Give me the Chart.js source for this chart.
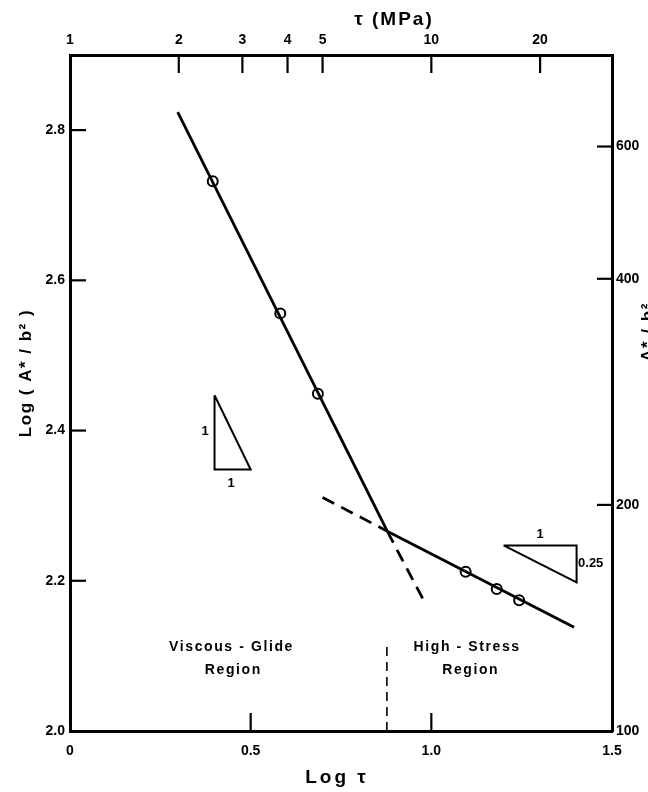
<!DOCTYPE html>
<html>
<head>
<meta charset="utf-8">
<script src="https://cdn.jsdelivr.net/npm/chart.js@4/dist/chart.umd.min.js"></script>
<style>
  html, body { margin: 0; padding: 0; background: #fff; }
  canvas { display: block; }
</style>
</head>
<body>
<canvas id="chart" width="648" height="792"></canvas>
<script>
// measured points (log tau, log A*/b^2)
const pointLogTau = [0.395, 0.582, 0.686, 1.095, 1.181, 1.243];
const pointLogA = [2.732, 2.556, 2.449, 2.212, 2.189, 2.174];

// fitted lines
const viscousLineX = [0.298, 0.878];
const viscousLineY = [2.824, 2.266];
const stressLineX = [0.878, 1.395];
const stressLineY = [2.266, 2.138];
const viscousDashX = [0.878, 0.983];
const viscousDashY = [2.266, 2.170];
const stressDashX = [0.699, 0.878];
const stressDashY = [2.311, 2.266];
const boundaryX = [0.877, 0.877];
const boundaryY = [2.0, 2.112];

// slope triangles
const slope1X = [0.4, 0.4, 0.5, 0.4];
const slope1Y = [2.447, 2.348, 2.348, 2.447];
const slope2X = [1.2, 1.402, 1.402, 1.2];
const slope2Y = [2.247, 2.247, 2.198, 2.247];

// tick labels
const logTauTicks = [0, 0.5, 1.0, 1.5];
const logATicks = [2.0, 2.2, 2.4, 2.6, 2.8];
const tauTicks = [1, 2, 3, 4, 5, 10, 20];
const aTicks = [100, 200, 400, 600];

const FONT = '"Liberation Sans", Arial, sans-serif';

function xy(xs, ys) {
  return xs.map((x, i) => ({ x: x, y: ys[i] }));
}

function lineSet(xs, ys, dash, width) {
  return {
    data: xy(xs, ys),
    showLine: true,
    borderColor: '#000',
    borderWidth: width || 2.8,
    borderDash: dash || [],
    pointRadius: 0,
    fill: false,
    tension: 0
  };
}

const tickFont = { family: FONT, size: 14, weight: 'bold' };

// inward tick marks, titles and notes
const decorations = {
  id: 'decorations',
  afterDraw(chart) {
    const ctx = chart.ctx;
    const s = chart.scales;
    const a = chart.chartArea;
    ctx.save();
    ctx.strokeStyle = '#000';
    ctx.fillStyle = '#000';
    ctx.lineWidth = 2.2;

    [2.2, 2.4, 2.6, 2.8].forEach(v => {
      const y = s.y.getPixelForValue(v);
      ctx.beginPath(); ctx.moveTo(a.left, y); ctx.lineTo(a.left + 16, y); ctx.stroke();
    });
    [0.5, 1.0].forEach(v => {
      const x = s.x.getPixelForValue(v);
      ctx.beginPath(); ctx.moveTo(x, a.bottom); ctx.lineTo(x, a.bottom - 18); ctx.stroke();
    });
    tauTicks.slice(1).forEach(v => {
      const x = s.xTop.getPixelForValue(Math.log10(v));
      ctx.beginPath(); ctx.moveTo(x, a.top); ctx.lineTo(x, a.top + 18); ctx.stroke();
    });
    aTicks.slice(1).forEach(v => {
      const y = s.yRight.getPixelForValue(v);
      ctx.beginPath(); ctx.moveTo(a.right, y); ctx.lineTo(a.right - 15, y); ctx.stroke();
    });

    const text = (str, x, y, size, spacing, align, style) => {
      ctx.font = (style || '') + ' bold ' + size + 'px ' + FONT;
      ctx.letterSpacing = (spacing || 0) + 'px';
      ctx.textAlign = align || 'center';
      ctx.textBaseline = 'middle';
      ctx.fillText(str, x, y);
    };
    const at = (lx, ly) => [s.x.getPixelForValue(lx), s.y.getPixelForValue(ly)];

    // slope labels
    let p = at(0.374, 2.399); text('1', p[0], p[1], 13);
    p = at(0.446, 2.33); text('1', p[0], p[1], 13);
    p = at(1.301, 2.262); text('1', p[0], p[1], 13);
    p = at(1.406, 2.223); text('0.25', p[0], p[1], 13, 0, 'left');

    // region labels
    p = at(0.447, 2.112); text('Viscous - Glide', p[0], p[1], 14, 1.6);
    p = at(0.452, 2.081); text('Region', p[0], p[1], 14, 1.6);
    p = at(1.099, 2.112); text('High - Stress', p[0], p[1], 14, 1.6);
    p = at(1.109, 2.081); text('Region', p[0], p[1], 14, 1.6);

    // axis titles
    text('τ (MPa)', 394, 20, 19, 2);
    text('Log τ', 337, 778, 19, 3);

    ctx.save();
    ctx.translate(26, 373);
    ctx.rotate(-Math.PI / 2);
    text('Log ( A* / b² )', 0, 0, 17, 1.5);
    ctx.restore();

    ctx.save();
    ctx.translate(648, 332);
    ctx.rotate(-Math.PI / 2);
    text('A* / b²', 0, 0, 17, 1.5);
    ctx.restore();

    ctx.restore();
  }
};

new Chart(document.getElementById('chart'), {
  type: 'scatter',
  data: {
    datasets: [
      lineSet(viscousLineX, viscousLineY),
      lineSet(stressLineX, stressLineY),
      lineSet(viscousDashX, viscousDashY, [13, 8]),
      lineSet(stressDashX, stressDashY, [13, 8]),
      lineSet(boundaryX, boundaryY, [9, 6], 1.6),
      lineSet(slope1X, slope1Y, [], 2),
      lineSet(slope2X, slope2Y, [], 2),
      {
        data: xy(pointLogTau, pointLogA),
        pointRadius: 5,
        pointBackgroundColor: '#fff',
        pointBorderColor: '#000',
        pointBorderWidth: 2,
        showLine: false
      }
    ]
  },
  options: {
    responsive: false,
    animation: false,
    layout: { padding: 0 },
    plugins: { legend: { display: false }, tooltip: { enabled: false } },
    scales: {
      x: {
        type: 'linear', position: 'bottom', min: 0, max: 1.5,
        afterBuildTicks: sc => { sc.ticks = logTauTicks.map(v => ({ value: v })); },
        afterFit: sc => { sc.height = 61; },
        grid: { display: false, drawTicks: false },
        border: { display: true, color: '#000', width: 3 },
        ticks: {
          font: tickFont, color: '#000', padding: 12, autoSkip: false, maxRotation: 0,
          callback: v => v === 0 ? '0' : v.toFixed(1)
        }
      },
      xTop: {
        type: 'linear', position: 'top', min: 0, max: 1.5,
        afterBuildTicks: sc => { sc.ticks = tauTicks.map(v => ({ value: Math.log10(v) })); },
        afterFit: sc => { sc.height = 55; },
        grid: { display: false, drawTicks: false },
        border: { display: true, color: '#000', width: 3 },
        ticks: {
          font: tickFont, color: '#000', padding: 6, autoSkip: false, maxRotation: 0,
          callback: (v, i) => String(tauTicks[i])
        }
      },
      y: {
        type: 'linear', position: 'left', min: 2.0, max: 2.9,
        afterBuildTicks: sc => { sc.ticks = logATicks.map(v => ({ value: v })); },
        afterFit: sc => { sc.width = 70; },
        grid: { display: false, drawTicks: false },
        border: { display: true, color: '#000', width: 3 },
        ticks: {
          font: tickFont, color: '#000', padding: 5, autoSkip: false,
          callback: v => v.toFixed(1)
        }
      },
      yRight: {
        type: 'logarithmic', position: 'right', min: 100, max: Math.pow(10, 2.9),
        afterBuildTicks: sc => { sc.ticks = aTicks.map(v => ({ value: v })); },
        afterFit: sc => { sc.width = 36; },
        grid: { display: false, drawTicks: false },
        border: { display: true, color: '#000', width: 3 },
        ticks: {
          font: tickFont, color: '#000', padding: 4, autoSkip: false,
          callback: v => String(v)
        }
      }
    }
  },
  plugins: [decorations]
});
</script>
</body>
</html>
